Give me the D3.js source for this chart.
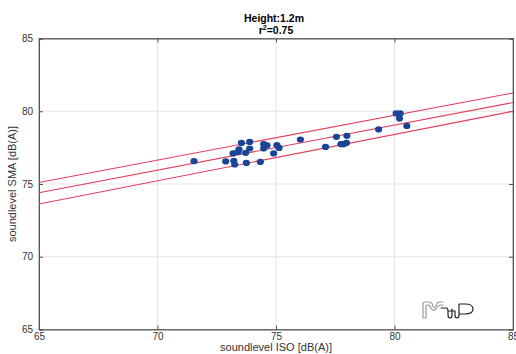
<!DOCTYPE html>
<html>
<head>
<meta charset="utf-8">
<script src="https://cdn.jsdelivr.net/npm/d3@7"></script>
<style>
  body { margin: 0; background: #fff; }
  text { font-family: "Liberation Sans", Arial, sans-serif; }
</style>
</head>
<body>
<div id="chart"></div>
<script>
// measured levels, ISO vs SMA
var isoLevels = [71.54, 72.88, 73.22, 73.26, 73.19, 73.44, 73.40, 73.54, 73.72, 73.75,
  73.89, 73.89, 74.34, 74.48, 74.48, 74.62, 74.90, 75.04, 75.13, 76.03,
  77.09, 77.55, 77.74, 77.85, 77.97, 77.99, 79.33, 80.07, 80.24, 80.21, 80.52];
var smaLevels = [76.57, 76.55, 76.59, 76.34, 77.10, 77.39, 77.20, 77.82, 77.14, 76.45,
  77.89, 77.44, 76.52, 77.74, 77.44, 77.65, 77.10, 77.67, 77.48, 78.06,
  77.55, 78.24, 77.74, 77.74, 77.82, 78.31, 78.75, 79.85, 79.85, 79.50, 78.99];

// fit line + bounds, at x = 65 and x = 85
var fitX = [65, 85];
var fitUpper = [75.1, 81.26];
var fitMid = [74.4, 80.6];
var fitLower = [73.63, 80.0];

var ticks = [65, 70, 75, 80, 85];

var width = 516, height = 354;
var margin = {left: 39, right: 3, top: 38.5, bottom: 24.5};

var svg = d3.select('#chart').append('svg')
  .attr('width', width)
  .attr('height', height);

var x = d3.scaleLinear().domain([65, 85]).range([margin.left, width - margin.right]);
var y = d3.scaleLinear().domain([65, 85]).range([height - margin.bottom, margin.top]);

// grid
svg.append('g')
  .selectAll('line.vgrid')
  .data(ticks.slice(1, -1))
  .enter().append('line')
  .attr('x1', function(d) { return x(d); })
  .attr('x2', function(d) { return x(d); })
  .attr('y1', y(65)).attr('y2', y(85))
  .attr('stroke', '#e3e3e3');

svg.append('g')
  .selectAll('line.hgrid')
  .data(ticks.slice(1, -1))
  .enter().append('line')
  .attr('y1', function(d) { return y(d); })
  .attr('y2', function(d) { return y(d); })
  .attr('x1', x(65)).attr('x2', x(85))
  .attr('stroke', '#e3e3e3');

// box
svg.append('rect')
  .attr('x', x(65)).attr('y', y(85))
  .attr('width', x(85) - x(65)).attr('height', y(65) - y(85))
  .attr('fill', 'none').attr('stroke', '#888');

// axes, ticks inside like matlab
svg.append('g')
  .attr('transform', 'translate(0,' + y(65) + ')')
  .call(d3.axisBottom(x).tickValues(ticks).tickSize(-4).tickPadding(3));
svg.append('g')
  .attr('transform', 'translate(' + x(65) + ',0)')
  .call(d3.axisLeft(y).tickValues(ticks).tickSize(-4).tickPadding(6));
svg.append('g')
  .attr('transform', 'translate(0,' + y(85) + ')')
  .call(d3.axisTop(x).tickValues(ticks).tickSize(-4).tickFormat(''));
svg.append('g')
  .attr('transform', 'translate(' + x(85) + ',0)')
  .call(d3.axisRight(y).tickValues(ticks).tickSize(-4).tickFormat(''));

svg.selectAll('.domain').attr('stroke', '#555');
svg.selectAll('.tick line').attr('stroke', '#555');
svg.selectAll('.tick text').attr('fill', '#333').style('font-size', '10px')
  .style('font-family', '"Liberation Sans", Arial, sans-serif');

// regression lines
var lineFn = d3.line()
  .x(function(d) { return x(d[0]); })
  .y(function(d) { return y(d[1]); });

[fitUpper, fitMid, fitLower].forEach(function(vals) {
  svg.append('path')
    .attr('d', lineFn(d3.zip(fitX, vals)))
    .attr('fill', 'none')
    .attr('stroke', '#e0405e')
    .attr('stroke-width', 1.1);
});

// points
svg.append('g')
  .selectAll('ellipse')
  .data(d3.zip(isoLevels, smaLevels))
  .enter().append('ellipse')
  .attr('cx', function(d) { return x(d[0]); })
  .attr('cy', function(d) { return y(d[1]); })
  .attr('rx', 3.6).attr('ry', 3.1)
  .attr('fill', '#1a4597');

// titles
svg.append('text')
  .attr('x', 274).attr('y', 22)
  .attr('text-anchor', 'middle')
  .style('font-size', '10.5px').style('font-weight', 'bold')
  .text('Height:1.2m');
var r2 = svg.append('text')
  .attr('x', 276).attr('y', 34)
  .attr('text-anchor', 'middle')
  .style('font-size', '10.5px').style('font-weight', 'bold');
r2.append('tspan').text('r');
r2.append('tspan').attr('dy', -4).style('font-size', '7px').text('2');
r2.append('tspan').attr('dy', 4).text('=0.75');

svg.append('text')
  .attr('x', (x(65) + x(85)) / 2).attr('y', 351)
  .attr('text-anchor', 'middle')
  .attr('fill', '#333')
  .style('font-size', '11px')
  .text('soundlevel ISO [dB(A)]');

svg.append('text')
  .attr('transform', 'translate(16,' + (y(65) + y(85)) / 2 + ') rotate(-90)')
  .attr('text-anchor', 'middle')
  .attr('fill', '#333')
  .style('font-size', '11px')
  .text('soundlevel SMA [dB(A)]');

// logo (rough)
var logo = svg.append('g').attr('fill', 'none').attr('stroke-width', 1.2)
  .attr('stroke-linejoin', 'round').attr('stroke-linecap', 'round');
logo.append('path')
  .attr('d', 'M423,318 L423,304 Q423,302 425,302 L429,302 Q432,302 433,306 Q434,309 436,306 Q437,302 440,302 L443,302' +
    ' M426,318 L426,306 Q426,305 428,305 Q430,305 431,308 Q433,312 436,309 Q438,305 441,305 L443,305 M423,318 L426,318')
  .attr('stroke', '#9a9a9a');
logo.append('path')
  .attr('d', 'M441,308 L446,308 Q448,308 448,311 L448,315 Q448,318 450,318 Q452,318 452,315 L452,309' +
    ' M449,311 L455,311 L455,315 Q455,318 457,318 Q459,318 459,315 L459,304 L465,304 Q473,304 473,309 Q473,314 465,314 L460,314')
  .attr('stroke', '#222');
</script>
</body>
</html>
